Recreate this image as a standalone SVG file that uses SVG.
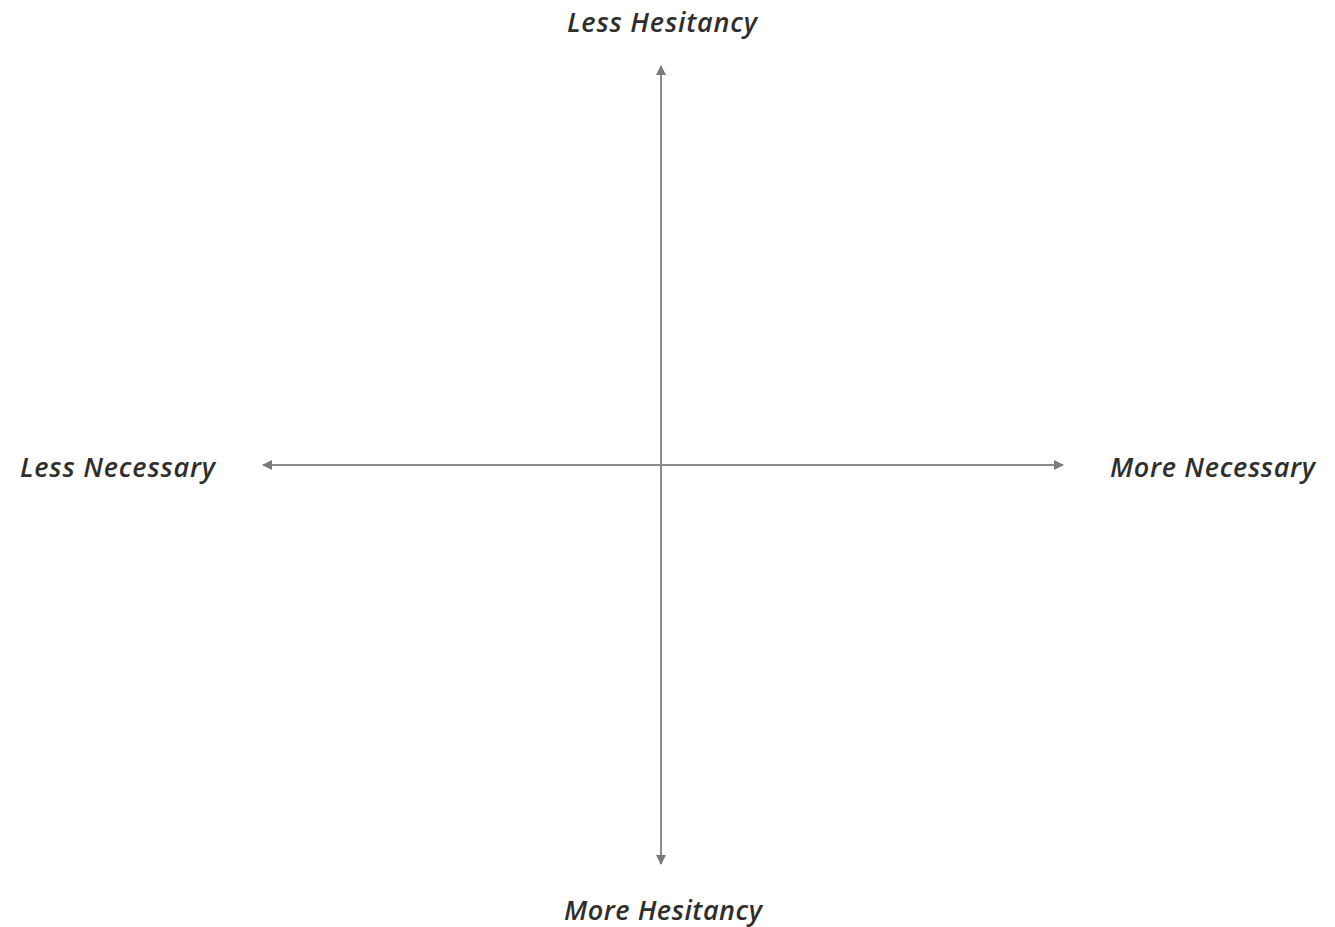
<svg xmlns="http://www.w3.org/2000/svg" width="1335" height="927" viewBox="0 0 1335 927">
<style>
.lbl{font-family:"Open Sans","Noto Sans","Liberation Sans",sans-serif;font-style:italic;font-weight:600;font-size:27px;fill:#2e2e2e}
.ax{stroke:#8a8a8a;stroke-width:2;fill:none}
</style>
<defs>
<marker id="ah" viewBox="0 0 10 10" refX="9" refY="5" markerWidth="5" markerHeight="5" orient="auto-start-reverse" markerUnits="strokeWidth">
<path d="M0,0 L10,5 L0,10 z" fill="#7a7a7a"/>
</marker>
</defs>
<rect width="1335" height="927" fill="#ffffff"/>
<g id="connectors">
<line class="ax" x1="661" y1="66" x2="661" y2="864" marker-start="url(#ah)" marker-end="url(#ah)"/>
<line class="ax" x1="263" y1="465" x2="1063" y2="465" marker-start="url(#ah)" marker-end="url(#ah)"/>
</g>
<g id="top"><text class="lbl" x="662" y="32" text-anchor="middle" textLength="190">Less Hesitancy</text></g>
<g id="bottom"><text class="lbl" x="663" y="920" text-anchor="middle" textLength="198">More Hesitancy</text></g>
<g id="left"><text class="lbl" x="20" y="477" textLength="195">Less Necessary</text></g>
<g id="right"><text class="lbl" x="1110" y="477" textLength="205">More Necessary</text></g>
</svg>
